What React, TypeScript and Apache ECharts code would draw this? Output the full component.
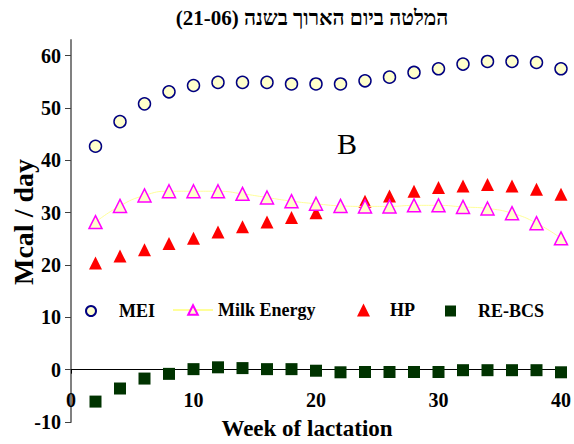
import React, { useEffect, useRef } from "react";
import * as echarts from "echarts";

const weeks = [2, 4, 6, 8, 10, 12, 14, 16, 18, 20, 22, 24, 26, 28, 30, 32, 34, 36, 38, 40];
const mei = [42.7, 47.4, 50.8, 53.1, 54.3, 54.9, 54.9, 54.9, 54.6, 54.6, 54.6, 55.2, 55.9, 56.8, 57.5, 58.4, 58.9, 58.9, 58.7, 57.5];
const milkEnergy = [28.2, 31.3, 33.3, 34.1, 34.1, 34.1, 33.6, 32.9, 32.2, 31.7, 31.3, 31.2, 31.2, 31.4, 31.4, 31.1, 30.8, 29.9, 28.0, 25.1];
const hp = [20.4, 21.7, 22.9, 24.1, 25.1, 26.3, 27.3, 28.2, 29.1, 30.0, 31.2, 32.2, 33.2, 34.1, 34.8, 35.1, 35.4, 35.1, 34.5, 33.5];
const reBcs = [-6.1, -3.6, -1.7, -0.8, 0.1, 0.45, 0.3, 0.1, 0.1, -0.2, -0.5, -0.45, -0.45, -0.45, -0.45, -0.1, -0.1, -0.1, -0.1, -0.5];
const yTicks = [-10, 0, 10, 20, 30, 40, 50, 60];
const xTicks = [0, 10, 20, 30, 40];

const titleText = "(21-06) המלטה ביום הארוך בשנה";
const yAxisTitle = "Mcal / day";
const xAxisTitle = "Week of lactation";
const seriesNames = ["MEI", "Milk Energy", "HP", "RE-BCS"];

const FONT = '"Liberation Serif", "Times New Roman", serif';

const pairs = (vals: number[]) => weeks.map((w, i) => [w, vals[i]]);

export default function App() {
  const ref = useRef<HTMLDivElement>(null);
  useEffect(() => {
    if (!ref.current) return;
    const chart = echarts.init(ref.current, undefined, { renderer: "svg" });
    const tickStyle = { fontFamily: FONT, fontWeight: "bold" as const, fontSize: 20, color: "#000" };
    const legStyle = { fontFamily: FONT, fontWeight: "bold" as const, fontSize: 18, color: "#000" };
    const legendBase = {
      padding: 0,
      orient: "horizontal" as const,
      textStyle: { ...legStyle },
      selectedMode: false as const,
    };
    chart.setOption({
      animation: false,
      backgroundColor: "#fff",
      graphic: [
        {
          type: "text",
          x: 312,
          y: 18,
          style: {
            text: titleText,
            fontFamily: FONT,
            fontWeight: "bold",
            fontSize: 21,
            fill: "#000",
            align: "center",
            verticalAlign: "middle",
          },
        },
        {
          type: "text",
          x: 23,
          y: 222,
          rotation: Math.PI / 2,
          style: {
            text: yAxisTitle,
            fontFamily: FONT,
            fontWeight: "bold",
            fontSize: 28,
            fill: "#000",
            align: "center",
            verticalAlign: "middle",
          },
        },
        {
          type: "text",
          x: 347,
          y: 143,
          style: { text: "B", fontFamily: FONT, fontSize: 30, fill: "#000", align: "center", verticalAlign: "middle" },
        },
      ],
      grid: { left: 71, right: 13, top: 40, bottom: 22, containLabel: false, outerBoundsMode: "none" },
      xAxis: {
        type: "value",
        min: 0,
        max: 40,
        interval: 10,
        axisLine: { show: true, onZero: true, lineStyle: { color: "#000", width: 1 } },
        axisTick: { show: true, length: 4, lineStyle: { color: "#000" }, customValues: xTicks },
        axisLabel: { ...tickStyle, margin: -32, customValues: xTicks },
        splitLine: { show: false },
        name: xAxisTitle,
        nameLocation: "middle",
        nameGap: -5,
        nameTextStyle: { fontFamily: FONT, fontWeight: "bold", fontSize: 23, color: "#000", padding: [0, 18, 0, 0] },
      },
      yAxis: {
        type: "value",
        min: -10,
        max: 63,
        interval: 10,
        axisLine: { show: true, onZero: false, lineStyle: { color: "#808080", width: 2 } },
        axisTick: { show: true, length: 6, lineStyle: { color: "#404040" }, customValues: yTicks },
        axisLabel: { ...tickStyle, margin: 10, customValues: yTicks },
        splitLine: { show: false },
      },
      legend: [
        { ...legendBase, data: [seriesNames[0]], left: 85, top: 302, itemWidth: 10, itemHeight: 10, textStyle: { ...legStyle, padding: [0, 0, 0, 18] } },
        { ...legendBase, data: [seriesNames[1]], left: 172, top: 301, itemWidth: 40, itemHeight: 12 },
        { ...legendBase, data: [seriesNames[2]], left: 357, top: 301, itemWidth: 13, itemHeight: 13, textStyle: { ...legStyle, padding: [0, 0, 0, 15] } },
        { ...legendBase, data: [seriesNames[3]], left: 445, top: 302, itemWidth: 11, itemHeight: 11, textStyle: { ...legStyle, padding: [0, 0, 0, 17] } },
      ],
      series: [
        {
          name: seriesNames[0],
          type: "scatter",
          data: pairs(mei),
          symbol: "circle",
          symbolSize: 12,
          itemStyle: { color: "#ffffcc", borderColor: "#000080", borderWidth: 1.5, opacity: 1 },
        },
        {
          name: seriesNames[1],
          type: "line",
          data: pairs(milkEnergy),
          smooth: 0.5,
          symbol: "triangle",
          symbolSize: 13,
          showAllSymbol: true,
          lineStyle: { color: "#ffff99", width: 1 },
          itemStyle: { color: "#ffffcc", borderColor: "#ff00ff", borderWidth: 1.5, opacity: 1 },
        },
        {
          name: seriesNames[2],
          type: "scatter",
          data: pairs(hp),
          symbol: "triangle",
          symbolSize: 13,
          itemStyle: { color: "#ff0000", opacity: 1 },
        },
        {
          name: seriesNames[3],
          type: "scatter",
          data: pairs(reBcs),
          symbol: "rect",
          symbolSize: 12,
          itemStyle: { color: "#003300", opacity: 1 },
        },
      ],
    });
    return () => chart.dispose();
  }, []);
  return <div ref={ref} style={{ position: "absolute", left: 0, top: 0, width: 574, height: 444 }} />;
}
